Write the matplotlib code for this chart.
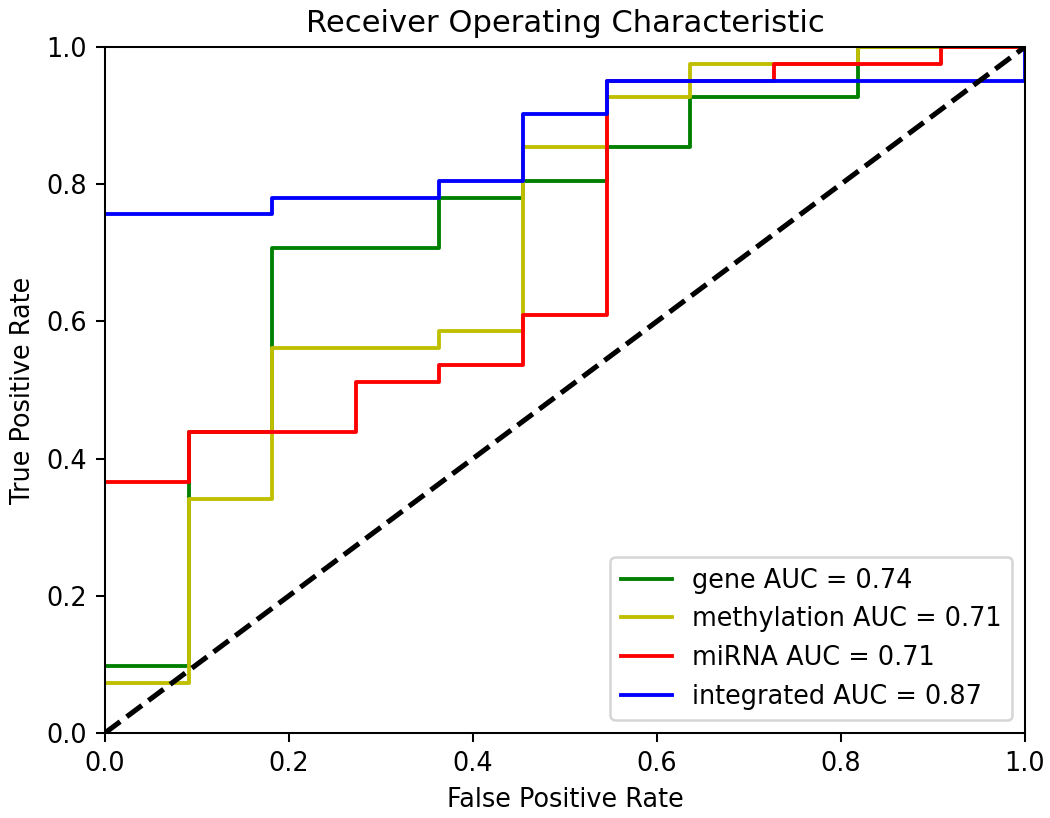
import matplotlib
matplotlib.use("Agg")
import matplotlib.pyplot as plt

# ROC points (steps of 1/11 on FPR, 1/41 on TPR)
gene_fpr = [0.0, 0.0909, 0.0909, 0.1818, 0.1818, 0.3636, 0.3636, 0.4545, 0.4545,
            0.5455, 0.5455, 0.6364, 0.6364, 0.8182, 0.8182, 1.0]
gene_tpr = [0.0976, 0.0976, 0.4390, 0.4390, 0.7073, 0.7073, 0.7805, 0.7805, 0.8049,
            0.8049, 0.8537, 0.8537, 0.9268, 0.9268, 1.0, 1.0]

meth_fpr = [0.0, 0.0909, 0.0909, 0.1818, 0.1818, 0.3636, 0.3636, 0.4545, 0.4545,
            0.5455, 0.5455, 0.6364, 0.6364, 0.8182, 0.8182, 1.0]
meth_tpr = [0.0732, 0.0732, 0.3415, 0.3415, 0.5610, 0.5610, 0.5854, 0.5854, 0.8537,
            0.8537, 0.9268, 0.9268, 0.9756, 0.9756, 1.0, 1.0]

mirna_fpr = [0.0, 0.0909, 0.0909, 0.2727, 0.2727, 0.3636, 0.3636, 0.4545, 0.4545,
             0.5455, 0.5455, 0.7273, 0.7273, 0.9091, 0.9091, 1.0]
mirna_tpr = [0.3659, 0.3659, 0.4390, 0.4390, 0.5122, 0.5122, 0.5366, 0.5366, 0.6098,
             0.6098, 0.9512, 0.9512, 0.9756, 0.9756, 1.0, 1.0]

integ_fpr = [0.0, 0.1818, 0.1818, 0.3636, 0.3636, 0.4545, 0.4545, 0.5455, 0.5455,
             1.0, 1.0]
integ_tpr = [0.7561, 0.7561, 0.7805, 0.7805, 0.8049, 0.8049, 0.9024, 0.9024, 0.9512,
             0.9512, 1.0]

labels = ['gene AUC = 0.74', 'methylation AUC = 0.71', 'miRNA AUC = 0.71', 'integrated AUC = 0.87']

dpi = 184
fig = plt.figure(figsize=(1050 / dpi, 818 / dpi), dpi=dpi)
ax = fig.add_axes([0.1, 0.104, 0.876, 0.8385])

ax.plot(gene_fpr, gene_tpr, 'g', label=labels[0])
ax.plot(meth_fpr, meth_tpr, 'y', label=labels[1])
ax.plot(mirna_fpr, mirna_tpr, 'r', label=labels[2])
ax.plot(integ_fpr, integ_tpr, 'b', label=labels[3])
ax.plot([0, 1], [0, 1], 'k--', lw=2)

ax.set_xlim([0, 1])
ax.set_ylim([0, 1])
ax.set_title('Receiver Operating Characteristic')
ax.set_xlabel('False Positive Rate')
ax.set_ylabel('True Positive Rate')
ax.legend(loc='lower right')

fig.savefig('out.png', dpi=dpi)
